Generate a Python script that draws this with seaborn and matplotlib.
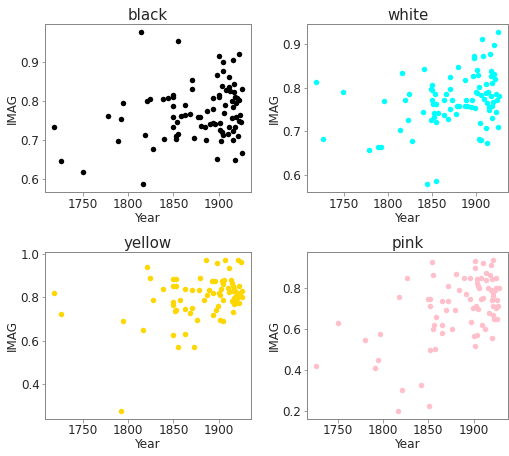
import matplotlib
matplotlib.use("Agg")
import matplotlib.pyplot as plt
import seaborn as sns
import pandas as pd

# black
black_year = [1719, 1726, 1750, 1778, 1789, 1792, 1795, 1814, 1816, 1819,
              1821, 1824, 1827, 1839, 1840, 1844, 1849, 1849, 1850, 1849,
              1850, 1853, 1853, 1855, 1854, 1855, 1858, 1863, 1863, 1868,
              1870, 1870, 1873, 1877, 1879, 1880, 1885, 1886, 1887, 1890,
              1893, 1894, 1894, 1896, 1898, 1898, 1900, 1900, 1900, 1901,
              1901, 1902, 1903, 1903, 1904, 1905, 1905, 1906, 1907, 1908,
              1910, 1911, 1911, 1911, 1912, 1914, 1914, 1915, 1915, 1916,
              1916, 1917, 1917, 1918, 1918, 1918, 1919, 1919, 1920, 1921,
              1922, 1922, 1922, 1923, 1924, 1925, 1925]
black_imag = [0.732, 0.646, 0.617, 0.762, 0.697, 0.753, 0.794, 0.979, 0.585, 0.713,
              0.799, 0.806, 0.677, 0.804, 0.703, 0.808, 0.787, 0.811, 0.815, 0.759,
              0.734, 0.709, 0.701, 0.716, 0.746, 0.956, 0.762, 0.790, 0.764, 0.766,
              0.853, 0.830, 0.705, 0.760, 0.760, 0.735, 0.732, 0.699, 0.773, 0.740,
              0.809, 0.744, 0.780, 0.740, 0.651, 0.866, 0.810, 0.815, 0.916, 0.744,
              0.725, 0.698, 0.719, 0.838, 0.713, 0.901, 0.878, 0.768, 0.790, 0.828,
              0.714, 0.861, 0.734, 0.835, 0.827, 0.757, 0.801, 0.722, 0.785, 0.906,
              0.699, 0.844, 0.824, 0.811, 0.734, 0.647, 0.796, 0.758, 0.809, 0.709,
              0.921, 0.803, 0.749, 0.765, 0.747, 0.830, 0.667]

# white
white_year = [1718, 1726, 1749, 1778, 1788, 1792, 1795, 1814, 1816, 1819,
              1822, 1824, 1827, 1840, 1841, 1844, 1855, 1849, 1849, 1850,
              1850, 1850, 1851, 1852, 1852, 1853, 1854, 1855, 1857, 1863,
              1864, 1866, 1868, 1870, 1870, 1870, 1873, 1877, 1878, 1879,
              1881, 1887, 1887, 1889, 1890, 1894, 1895, 1897, 1898, 1898,
              1899, 1900, 1901, 1901, 1902, 1903, 1903, 1905, 1905, 1906,
              1906, 1907, 1908, 1909, 1911, 1911, 1911, 1913, 1913, 1914,
              1915, 1915, 1916, 1917, 1917, 1917, 1918, 1918, 1918, 1919,
              1920, 1921, 1922, 1923, 1923, 1924, 1925, 1925, 1926]
white_imag = [0.813, 0.682, 0.790, 0.657, 0.665, 0.664, 0.769, 0.702, 0.835, 0.771,
              0.725, 0.786, 0.678, 0.745, 0.844, 0.578, 0.586, 0.725, 0.798, 0.806,
              0.794, 0.772, 0.762, 0.742, 0.732, 0.786, 0.763, 0.721, 0.742, 0.772,
              0.738, 0.786, 0.729, 0.751, 0.797, 0.825, 0.771, 0.740, 0.757, 0.848,
              0.758, 0.818, 0.757, 0.772, 0.758, 0.755, 0.772, 0.828, 0.872, 0.868,
              0.753, 0.791, 0.840, 0.788, 0.829, 0.682, 0.802, 0.680, 0.720, 0.680,
              0.784, 0.913, 0.872, 0.774, 0.788, 0.809, 0.708, 0.765, 0.674, 0.790,
              0.755, 0.748, 0.878, 0.780, 0.838, 0.826, 0.730, 0.758, 0.812, 0.768,
              0.832, 0.899, 0.821, 0.745, 0.785, 0.772, 0.929, 0.709, 0.782]

# yellow
yellow_year = [1719, 1726, 1792, 1795, 1816, 1821, 1824, 1827, 1839, 1849,
               1849, 1849, 1850, 1850, 1852, 1853, 1853, 1853, 1855, 1857,
               1863, 1863, 1863, 1868, 1870, 1870, 1873, 1876, 1878, 1879,
               1884, 1886, 1887, 1889, 1892, 1893, 1894, 1896, 1897, 1898,
               1899, 1900, 1901, 1901, 1902, 1903, 1904, 1905, 1905, 1906,
               1907, 1910, 1911, 1911, 1913, 1914, 1914, 1915, 1915, 1916,
               1917, 1917, 1917, 1918, 1918, 1919, 1919, 1920, 1921, 1921,
               1922, 1922, 1923, 1924, 1925, 1925]
yellow_imag = [0.818, 0.723, 0.274, 0.691, 0.648, 0.942, 0.891, 0.788, 0.840, 0.883,
               0.852, 0.780, 0.626, 0.765, 0.737, 0.883, 0.852, 0.740, 0.571, 0.788,
               0.840, 0.745, 0.632, 0.729, 0.752, 0.832, 0.571, 0.695, 0.832, 0.891,
               0.788, 0.974, 0.811, 0.832, 0.874, 0.720, 0.818, 0.874, 0.740, 0.957,
               0.760, 0.818, 0.695, 0.809, 0.840, 0.874, 0.860, 0.788, 0.689, 0.878,
               0.972, 0.845, 0.937, 0.825, 0.880, 0.865, 0.782, 0.828, 0.732, 0.852,
               0.798, 0.768, 0.837, 0.803, 0.783, 0.772, 0.825, 0.798, 0.809, 0.972,
               0.775, 0.852, 0.822, 0.963, 0.800, 0.828]

# pink
pink_year = [1726, 1750, 1780, 1791, 1794, 1797, 1816, 1818, 1821, 1827,
             1842, 1851, 1850, 1852, 1852, 1852, 1854, 1855, 1855, 1856,
             1857, 1859, 1865, 1865, 1865, 1870, 1872, 1872, 1876, 1879,
             1881, 1884, 1890, 1892, 1896, 1896, 1897, 1899, 1900, 1902,
             1902, 1903, 1902, 1904, 1904, 1904, 1905, 1905, 1906, 1908,
             1908, 1909, 1910, 1911, 1913, 1914, 1914, 1916, 1917, 1918,
             1919, 1919, 1920, 1920, 1920, 1921, 1921, 1922, 1922, 1922,
             1923, 1924, 1925, 1925, 1925, 1926, 1926, 1927, 1928]
pink_imag = [0.423, 0.632, 0.549, 0.412, 0.453, 0.578, 0.200, 0.759, 0.304, 0.849,
             0.331, 0.226, 0.748, 0.712, 0.749, 0.500, 0.929, 0.867, 0.600, 0.619,
             0.505, 0.660, 0.736, 0.622, 0.583, 0.692, 0.810, 0.736, 0.603, 0.692,
             0.870, 0.792, 0.849, 0.772, 0.852, 0.749, 0.634, 0.702, 0.570, 0.898,
             0.935, 0.714, 0.521, 0.847, 0.828, 0.573, 0.811, 0.700, 0.803, 0.852,
             0.749, 0.619, 0.921, 0.754, 0.600, 0.875, 0.839, 0.803, 0.678, 0.865,
             0.916, 0.792, 0.844, 0.557, 0.743, 0.763, 0.714, 0.668, 0.779, 0.940,
             0.648, 0.792, 0.852, 0.803, 0.704, 0.743, 0.652, 0.714, 0.800]

panels = [
    ('black', black_year, black_imag, 'black'),
    ('white', white_year, white_imag, 'cyan'),
    ('yellow', yellow_year, yellow_imag, 'gold'),
    ('pink', pink_year, pink_imag, 'pink'),
]

sns.set_style('white')
plt.rcParams['font.family'] = ['DejaVu Sans']

fig = plt.figure(figsize=(509 / 72, 456 / 72), dpi=72)

# axes boxes in pixels: left, top, right, bottom
boxes = [(45, 24, 251, 192), (307, 24, 508, 192),
         (45, 252, 251, 419), (307, 252, 508, 419)]

for (name, yrs, vals, col), (l, t, r, b) in zip(panels, boxes):
    ax = fig.add_axes([l / 509, 1 - b / 456, (r - l) / 509, (b - t) / 456])
    df = pd.DataFrame({'Year': yrs, 'IMAG': vals})
    sns.scatterplot(data=df, x='Year', y='IMAG', color=col, s=30,
                    linewidth=0, ax=ax)
    ax.set_title(name, fontsize=15, pad=4)
    ax.set_xlabel('Year', fontsize=12, labelpad=1)
    ax.set_ylabel('IMAG', fontsize=12, labelpad=2)
    ax.set_xticks([1750, 1800, 1850, 1900])
    ax.tick_params(labelsize=12, color='#888888', length=3.5, width=0.8,
                   bottom=True, left=True, pad=2)
    for sp in ax.spines.values():
        sp.set_color('#888888')
        sp.set_linewidth(1.0)
    ax.grid(False)

fig.savefig('out.png', dpi=72)
